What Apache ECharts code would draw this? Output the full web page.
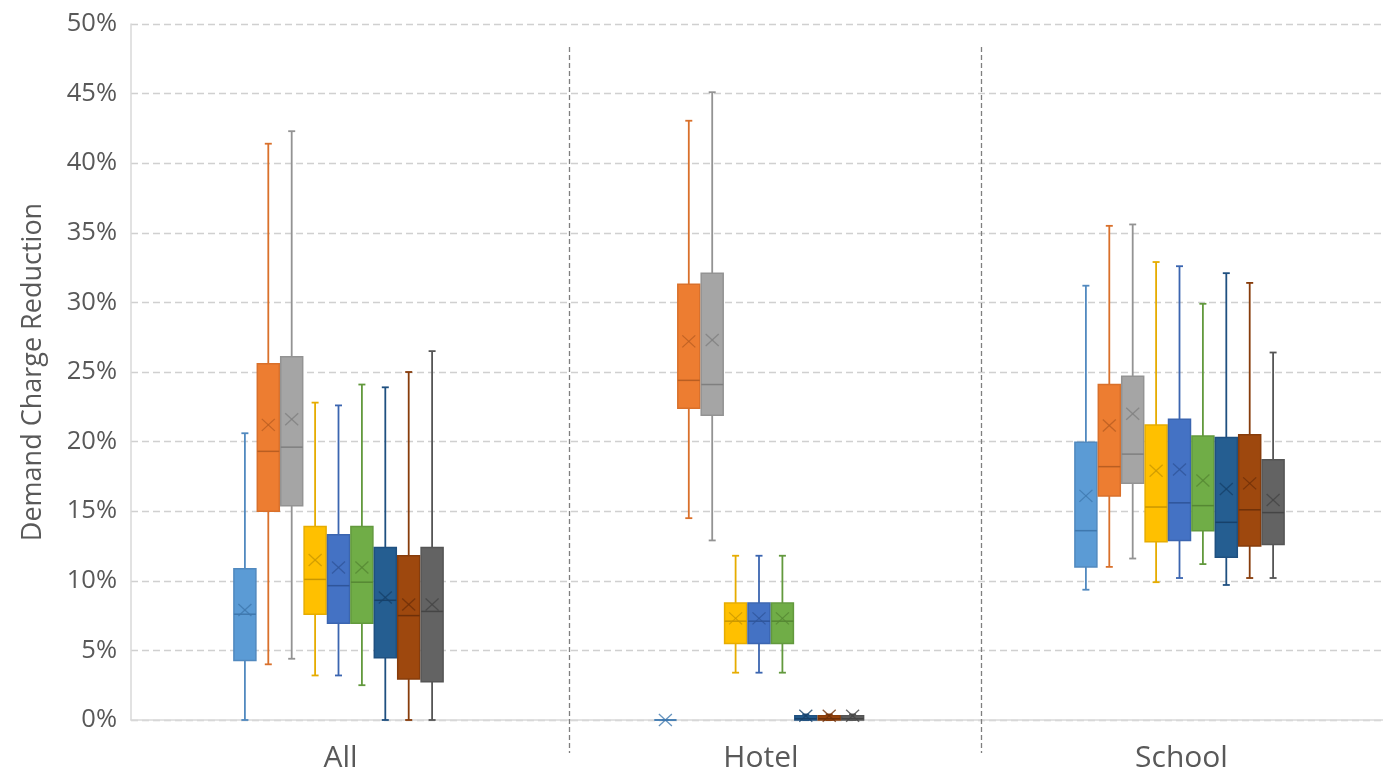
<!DOCTYPE html>
<html>
<head>
<meta charset="utf-8">
<script src="https://cdn.jsdelivr.net/npm/echarts@6/dist/echarts.min.js"></script>
<style>
html,body{margin:0;padding:0;background:#fff;}
#chart{width:1383px;height:771px;}
</style>
</head>
<body>
<div id="chart"></div>
<script>
// Categories and tick labels
const categories = ['All', 'Hotel', 'School'];
const yTicks = [0, 5, 10, 15, 20, 25, 30, 35, 40, 45, 50];

// Each row: [min, q1, median, q3, max, mean] in percent, one row per category
const seriesNames = ['Series 1','Series 2','Series 3','Series 4','Series 5','Series 6','Series 7','Series 8','Series 9'];
const lightBlue = [[0, 4.27, 7.6, 10.86, 20.6, 7.9], [0, 0, 0, 0, 0, 0], [9.36, 11.0, 13.6, 19.95, 31.2, 16.1]];
const orange    = [[4.0, 15.0, 19.3, 25.6, 41.4, 21.2], [14.5, 22.4, 24.4, 31.3, 43.05, 27.2], [11.0, 16.1, 18.2, 24.1, 35.5, 21.15]];
const gray      = [[4.4, 15.4, 19.6, 26.1, 42.3, 21.6], [12.9, 21.9, 24.1, 32.1, 45.1, 27.3], [11.6, 17.0, 19.1, 24.7, 35.6, 22.0]];
const yellow    = [[3.2, 7.6, 10.1, 13.9, 22.8, 11.5], [3.4, 5.5, 7.1, 8.4, 11.8, 7.3], [9.9, 12.8, 15.3, 21.2, 32.9, 17.9]];
const blue      = [[3.2, 6.95, 9.65, 13.3, 22.6, 10.95], [3.4, 5.5, 7.1, 8.4, 11.8, 7.3], [10.2, 12.9, 15.6, 21.6, 32.6, 18.0]];
const green     = [[2.5, 6.95, 9.9, 13.9, 24.1, 10.95], [3.4, 5.5, 7.1, 8.4, 11.8, 7.3], [11.2, 13.6, 15.4, 20.4, 29.9, 17.2]];
const darkBlue  = [[0, 4.47, 8.6, 12.4, 23.9, 8.8], [0, 0, 0.1, 0.3, 0.4, 0.3], [9.7, 11.7, 14.2, 20.3, 32.1, 16.6]];
const brown     = [[0, 2.94, 7.5, 11.8, 25.0, 8.3], [0, 0, 0.1, 0.3, 0.4, 0.3], [10.2, 12.5, 15.1, 20.5, 31.4, 17.0]];
const darkGray  = [[0, 2.74, 7.8, 12.4, 26.5, 8.3], [0, 0, 0.1, 0.3, 0.4, 0.3], [10.2, 12.6, 14.9, 18.7, 26.4, 15.8]];

const allSeries = [lightBlue, orange, gray, yellow, blue, green, darkBlue, brown, darkGray];
const fills   = ['#5B9BD5', '#ED7D31', '#A5A5A5', '#FFC000', '#4472C4', '#70AD47', '#255E91', '#9E480E', '#636363'];
const strokes = ['#5189BF', '#D9702B', '#939393', '#E6AC00', '#3B65B0', '#62993D', '#1F5080', '#873C0B', '#555555'];
const marks   = ['#3F78AE', '#B95E22', '#7F7F7F', '#C99700', '#2F559A', '#558733', '#17416A', '#6E3009', '#454545'];

const STEP = 0.05565;   // fraction of category band between neighbouring boxes
const BOXW = 0.0523;    // fraction of category band used by a box
const CAP = 7;

function makeRender(idx) {
  return function (params, api) {
    const cat = api.value(0);
    const base = api.coord([cat, 0]);
    const band = api.size([1, 0])[0];
    const cx = base[0] + (idx - (allSeries.length - 1) / 2) * band * STEP;
    const w = band * BOXW;
    const py = v => api.coord([cat, v])[1];
    const yMin = py(api.value(1)), yQ1 = py(api.value(2)), yMed = py(api.value(3)),
          yQ3 = py(api.value(4)), yMax = py(api.value(5)), yMean = py(api.value(6));
    const st = strokes[idx], fl = fills[idx], mk = marks[idx];
    const lw = 1.8;
    const children = [
      { type: 'line', shape: { x1: cx, y1: yMax, x2: cx, y2: yQ3 }, style: { stroke: st, lineWidth: lw } },
      { type: 'line', shape: { x1: cx, y1: yQ1, x2: cx, y2: yMin }, style: { stroke: st, lineWidth: lw } },
      { type: 'line', shape: { x1: cx - CAP / 2, y1: yMax, x2: cx + CAP / 2, y2: yMax }, style: { stroke: st, lineWidth: lw } },
      { type: 'line', shape: { x1: cx - CAP / 2, y1: yMin, x2: cx + CAP / 2, y2: yMin }, style: { stroke: st, lineWidth: lw } },
      { type: 'rect', shape: { x: cx - w / 2, y: yQ3, width: w, height: Math.max(yQ1 - yQ3, 0) }, style: { fill: fl, stroke: st, lineWidth: 1.5 } },
      { type: 'line', shape: { x1: cx - w / 2, y1: yMed, x2: cx + w / 2, y2: yMed }, style: { stroke: mk, lineWidth: 1.5 } },
      { type: 'line', shape: { x1: cx - 6.5, y1: yMean - 6, x2: cx + 6.5, y2: yMean + 6 }, style: { stroke: mk, lineWidth: 1.3, opacity: 0.8 } },
      { type: 'line', shape: { x1: cx - 6.5, y1: yMean + 6, x2: cx + 6.5, y2: yMean - 6 }, style: { stroke: mk, lineWidth: 1.3, opacity: 0.8 } }
    ];
    return { type: 'group', children: children };
  };
}

const series = allSeries.map((rows, idx) => ({
  name: seriesNames[idx],
  type: 'custom',
  xAxisIndex: 1,
  yAxisIndex: 1,
  clip: false,
  renderItem: makeRender(idx),
  encode: { x: 0, y: [1, 2, 3, 4, 5, 6] },
  data: rows.map((r, i) => [i].concat(r))
}));

const textColor = '#595959';
const font = '"Open Sans", "Noto Sans", sans-serif';

const chart = echarts.init(document.getElementById('chart'), null, { renderer: 'canvas' });
chart.setOption({
  animation: false,
  backgroundColor: '#ffffff',
  grid: [
    { left: 131, right: 0, top: 24, bottom: 51, containLabel: false, outerBoundsMode: 'none' },
    { left: 128.25, width: 1261.5, top: 24, bottom: 51, containLabel: false, outerBoundsMode: 'none' }
  ],
  xAxis: [
    { gridIndex: 0, type: 'value', min: 0, max: 1,
      axisLine: { show: true, lineStyle: { color: '#d9d9d9', width: 1.5 } },
      axisTick: { show: false }, axisLabel: { show: false }, splitLine: { show: false } },
    { gridIndex: 1, type: 'category', data: categories,
      axisLine: { show: false }, axisTick: { show: false }, splitLine: { show: false },
      axisLabel: { color: textColor, fontSize: 30, fontFamily: font, margin: 23, padding: [0, 0, 0, 4] } }
  ],
  yAxis: [
    { gridIndex: 0, type: 'value', min: 0, max: 50, interval: 5,
      name: 'Demand Charge Reduction', nameLocation: 'middle', nameGap: 84,
      nameTextStyle: { color: textColor, fontSize: 27, fontFamily: font },
      axisLine: { show: true, lineStyle: { color: '#d9d9d9', width: 1.5 } },
      axisTick: { show: false },
      axisLabel: { color: textColor, fontSize: 25.5, fontFamily: font, margin: 14,
        formatter: v => (yTicks.indexOf(v) >= 0 ? v + '%' : '') },
      splitLine: { show: true, lineStyle: { color: '#d0d0d0', width: 1.3, type: [7, 4] } } },
    { gridIndex: 1, type: 'value', min: 0, max: 50, interval: 5, show: false }
  ],
  graphic: [
    { type: 'line', z: 100, shape: { x1: 569.5, y1: 47, x2: 569.5, y2: 753 }, style: { stroke: '#7f7f7f', lineWidth: 1.3, lineDash: [5, 3] } },
    { type: 'line', z: 100, shape: { x1: 981.5, y1: 47, x2: 981.5, y2: 753 }, style: { stroke: '#7f7f7f', lineWidth: 1.3, lineDash: [5, 3] } }
  ],
  series: series
});
</script>
</body>
</html>
